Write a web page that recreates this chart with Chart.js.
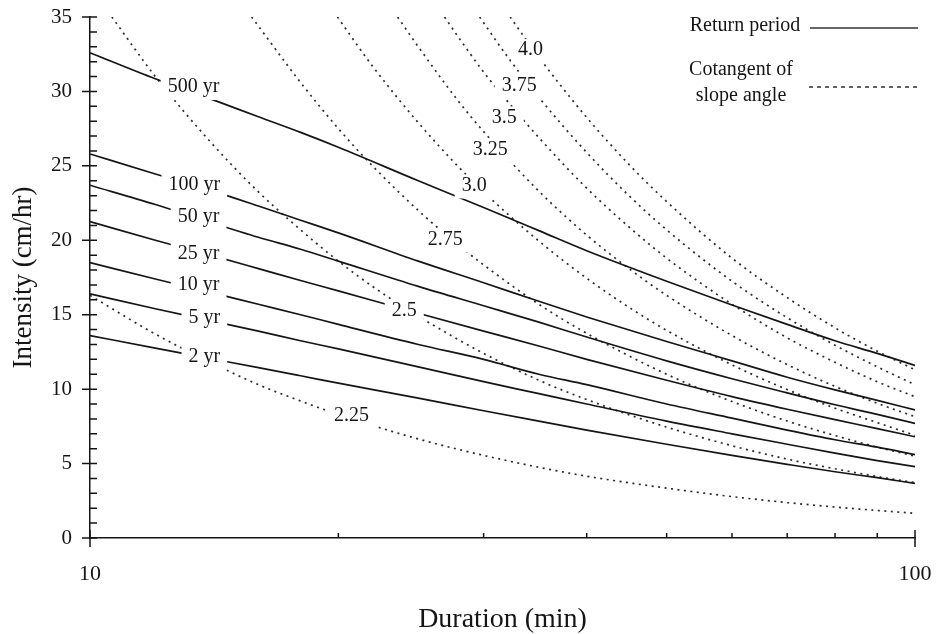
<!DOCTYPE html>
<html>
<head>
<meta charset="utf-8">
<script src="https://cdn.jsdelivr.net/npm/chart.js@4.4.0/dist/chart.umd.min.js"></script>
<style>
  html, body { margin: 0; padding: 0; background: #fff; }
  #wrap { width: 939px; height: 634px; }
</style>
</head>
<body>
<div id="wrap"><canvas id="idf"></canvas></div>
<script>
const serif = "'Liberation Serif', 'DejaVu Serif', serif";
const ink = '#151515';

// durations (min) where the return period curves were read
const durations = [10, 12, 14, 16, 18, 20, 25, 30, 35, 40, 50, 60, 70, 80, 90, 100];
const durationTicks = [10, 20, 30, 40, 50, 60, 70, 80, 90, 100];

// intensity (cm/hr) for each return period
const rp500 = [32.6, 30.85, 29.5, 28.3, 27.25, 26.25, 24.0, 22.2, 20.65, 19.3, 17.25, 15.65, 14.35, 13.25, 12.4, 11.6];
const rp100 = [25.8, 24.45, 23.35, 22.3, 21.35, 20.5, 18.6, 17.15, 15.9, 14.85, 13.2, 11.9, 10.8, 9.95, 9.25, 8.6];
const rp50 = [23.7, 22.4, 21.2, 20.2, 19.4, 18.6, 16.9, 15.6, 14.5, 13.5, 11.9, 10.7, 9.75, 8.95, 8.3, 7.7];
const rp25 = [21.25, 20.0, 19.0, 18.1, 17.3, 16.6, 15.1, 13.9, 12.9, 12.0, 10.6, 9.5, 8.65, 7.95, 7.35, 6.8];
const rp10 = [18.5, 17.4, 16.5, 15.7, 15.0, 14.35, 13.0, 12.0, 11.0, 10.3, 9.0, 8.05, 7.25, 6.6, 6.1, 5.6];
const rp5 = [16.4, 15.4, 14.6, 13.9, 13.25, 12.7, 11.5, 10.5, 9.7, 9.0, 7.85, 7.0, 6.3, 5.7, 5.2, 4.8];
const rp2 = [13.6, 12.75, 12.05, 11.45, 10.9, 10.4, 9.4, 8.55, 7.85, 7.25, 6.3, 5.55, 4.95, 4.45, 4.05, 3.67];

// cotangent of slope angle curves: duration / intensity pairs
const cot225D = [10, 12, 14, 16, 18, 20, 25, 30, 35, 40, 50, 60, 70, 80, 90, 100];
const cot225I = [16.3, 13.7, 11.8, 10.3, 9.2, 8.3, 6.65, 5.55, 4.75, 4.15, 3.35, 2.78, 2.38, 2.08, 1.85, 1.66];
const cot250D = [10.63, 12, 14, 16, 18, 20, 22, 25, 30, 35, 40, 50, 60, 70, 80, 90, 100];
const cot250I = [35, 31.0, 26.6, 23.25, 20.7, 18.6, 16.9, 14.9, 12.4, 10.6, 9.3, 7.45, 6.2, 5.3, 4.65, 4.13, 3.72];
const cot275D = [15.7, 18, 20, 22, 25, 28, 30, 35, 40, 50, 60, 70, 80, 90, 100];
const cot275I = [35, 30.6, 27.5, 25.0, 22.0, 19.65, 18.35, 15.7, 13.75, 11.0, 9.17, 7.86, 6.88, 6.11, 5.5];
const cot300D = [19.95, 22, 25, 28, 30, 35, 40, 45, 50, 60, 70, 80, 90, 100];
const cot300I = [35, 31.7, 27.9, 24.9, 23.25, 19.95, 17.45, 15.5, 13.95, 11.63, 9.97, 8.72, 7.75, 6.9];
const cot325D = [23.6, 25, 28, 30, 35, 40, 45, 50, 60, 70, 80, 90, 100];
const cot325I = [35, 33.0, 29.3, 27.3, 23.3, 20.35, 18.1, 16.3, 13.6, 11.65, 10.18, 9.05, 8.15];
const cot350D = [26.9, 28, 30, 32, 35, 40, 45, 50, 60, 70, 80, 90, 100];
const cot350I = [35, 33.6, 31.3, 29.4, 26.9, 23.5, 20.9, 18.8, 15.7, 13.45, 11.8, 10.5, 9.49];
const cot375D = [29.67, 32, 35, 40, 45, 50, 60, 70, 80, 90, 100];
const cot375I = [35, 32.4, 29.6, 25.9, 23.0, 20.7, 17.25, 14.8, 12.95, 11.5, 10.3];
const cot400D = [32.3, 35, 40, 45, 50, 60, 70, 80, 90, 100];
const cot400I = [35, 32.3, 28.25, 25.1, 22.6, 18.8, 16.15, 14.12, 12.55, 11.3];

// in-line curve labels (duration, intensity)
const curveLabels = [
  ['500 yr', 13.35, 30.3], ['100 yr', 13.38, 23.7], ['50 yr', 13.54, 21.55],
  ['25 yr', 13.54, 19.1], ['10 yr', 13.54, 16.98], ['5 yr', 13.76, 14.8],
  ['2 yr', 13.76, 12.15], ['2.25', 20.75, 8.23], ['2.5', 24.04, 15.28],
  ['2.75', 26.95, 20.05], ['3.0', 29.22, 23.68], ['3.25', 30.55, 26.1],
  ['3.5', 31.77, 28.25], ['3.75', 33.13, 30.4], ['4.0', 34.2, 32.78]
];

const pts = (xs, ys) => xs.map((d, i) => ({x: d, y: ys[i]}));

const solid = ys => ({
  data: pts(durations, ys),
  borderColor: ink, borderWidth: 1.7,
  pointRadius: 0, fill: false, cubicInterpolationMode: 'monotone'
});
const dotted = (xs, ys) => ({
  data: pts(xs, ys),
  borderColor: '#2a2a2a', borderWidth: 1.7, borderDash: [2, 4.5],
  pointRadius: 0, fill: false, cubicInterpolationMode: 'monotone'
});

// tick marks: inward minor ticks, crossing major ticks
const axisTicks = {
  id: 'axisTicks',
  afterDraw(chart) {
    const {ctx, chartArea: a, scales: {x, y}} = chart;
    ctx.save();
    ctx.strokeStyle = ink;
    ctx.lineWidth = 1.5;
    ctx.beginPath();
    for (let v = 0; v <= 35; v++) {
      const py = y.getPixelForValue(v);
      const major = v % 5 === 0;
      ctx.moveTo(a.left - (major ? 8 : 0), py);
      ctx.lineTo(a.left + 7, py);
    }
    durationTicks.forEach(d => {
      const px = x.getPixelForValue(d);
      const major = d === 10 || d === 100;
      ctx.moveTo(px, a.bottom + (major ? 9 : 0));
      ctx.lineTo(px, a.bottom - (major ? 8 : 5));
    });
    ctx.stroke();
    ctx.restore();
  }
};

// labels sitting in gaps of the curves
const inlineLabels = {
  id: 'inlineLabels',
  afterDatasetsDraw(chart) {
    const {ctx, scales: {x, y}} = chart;
    ctx.save();
    ctx.font = '20px ' + serif;
    ctx.textAlign = 'center';
    ctx.textBaseline = 'middle';
    curveLabels.forEach(([t, d, v]) => {
      const px = x.getPixelForValue(d), py = y.getPixelForValue(v);
      const w = ctx.measureText(t).width + 14;
      ctx.fillStyle = '#fff';
      ctx.fillRect(px - w / 2, py - 11, w, 24);
      ctx.fillStyle = ink;
      ctx.fillText(t, px, py);
    });
    ctx.restore();
  }
};

// legend in the top right corner
const cornerLegend = {
  id: 'cornerLegend',
  afterDraw(chart) {
    const ctx = chart.ctx;
    ctx.save();
    ctx.font = '20px ' + serif;
    ctx.fillStyle = ink;
    ctx.textAlign = 'center';
    ctx.textBaseline = 'alphabetic';
    ctx.fillText('Return period', 745, 31);
    ctx.fillText('Cotangent of', 741, 75);
    ctx.fillText('slope angle', 741, 101);
    ctx.strokeStyle = '#333';
    ctx.lineWidth = 1.6;
    ctx.beginPath();
    ctx.moveTo(810, 28); ctx.lineTo(918, 28);
    ctx.stroke();
    ctx.setLineDash([4, 4]);
    ctx.lineWidth = 1.3;
    ctx.beginPath();
    ctx.moveTo(809, 87); ctx.lineTo(921, 87);
    ctx.stroke();
    ctx.restore();
  }
};

new Chart(document.getElementById('idf'), {
  type: 'line',
  data: {
    datasets: [
      solid(rp500), solid(rp100), solid(rp50), solid(rp25), solid(rp10), solid(rp5), solid(rp2),
      dotted(cot225D, cot225I), dotted(cot250D, cot250I), dotted(cot275D, cot275I),
      dotted(cot300D, cot300I), dotted(cot325D, cot325I), dotted(cot350D, cot350I),
      dotted(cot375D, cot375I), dotted(cot400D, cot400I)
    ]
  },
  options: {
    responsive: true,
    maintainAspectRatio: false,
    animation: false,
    layout: { padding: { top: 17, right: 24, bottom: 0, left: 0 } },
    plugins: { legend: { display: false }, tooltip: { enabled: false } },
    scales: {
      x: {
        type: 'logarithmic', min: 10, max: 100,
        afterBuildTicks: s => { s.ticks = durationTicks.map(v => ({value: v})); },
        afterFit: s => { s.height = 96; s.paddingLeft = 0; s.paddingRight = 0; },
        grid: { display: false, drawTicks: false },
        border: { display: true, color: ink, width: 1.5 },
        ticks: {
          autoSkip: false, maxRotation: 0, padding: 23,
          color: ink, font: { family: serif, size: 22 },
          callback: v => (v === 10 || v === 100) ? String(v) : ''
        },
        title: {
          display: true, text: 'Duration (min)', color: ink,
          font: { family: serif, size: 28, lineHeight: 1 },
          padding: { top: 0, bottom: 0 }
        }
      },
      y: {
        min: 0, max: 35,
        afterFit: s => { s.width = 90; s.paddingTop = 0; s.paddingBottom = 0; },
        grid: { display: false, drawTicks: false },
        border: { display: true, color: ink, width: 1.5 },
        ticks: {
          stepSize: 5, padding: 18,
          color: ink, font: { family: serif, size: 21 }
        },
        title: {
          display: true, text: 'Intensity (cm/hr)', color: ink,
          font: { family: serif, size: 27 },
          padding: { top: 8, bottom: 0 }
        }
      }
    }
  },
  plugins: [axisTicks, inlineLabels, cornerLegend]
});
</script>
</body>
</html>
